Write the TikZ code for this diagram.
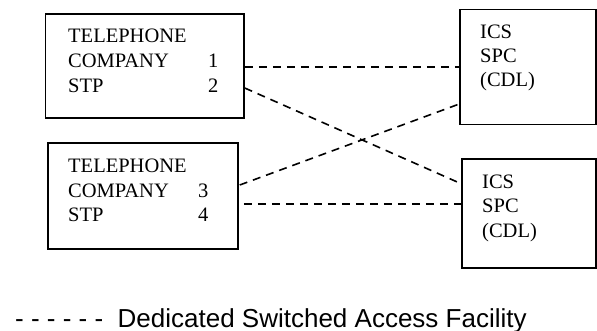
\documentclass[tikz,border=0pt]{standalone}
\usepackage{fontspec}
\setmainfont{Liberation Serif}
\newfontfamily\legendfont{Liberation Sans}
\begin{document}
\begin{tikzpicture}[x=1pt,y=-1pt,
  unitbox/.style={draw=black,line width=1.5pt,rectangle,inner sep=0pt,
    minimum width=#1},
  lbl/.style={anchor=base west,inner sep=0pt,font=\fontsize{20.5}{24}\selectfont},
  link/.style={line width=1.6pt,dash pattern=on 8pt off 6pt}]
  \useasboundingbox (0,0) rectangle (597,331);

  % telephone company STPs
  \node[unitbox=198.5pt,minimum height=104pt] (tc1) at (144.75,66) {};
  \node[unitbox=190pt,minimum height=106pt] (tc2) at (143,196) {};
  % ICS SPC boxes
  \node[unitbox=136pt,minimum height=115pt] (ics1) at (528,67) {};
  \node[unitbox=134pt,minimum height=109pt] (ics2) at (529,213.5) {};

  % labels of the first STP
  \node[lbl] (t1a) at (68,43) {TELEPHONE};
  \node[lbl] (t1b) at (68,68) {COMPANY};
  \node[lbl] (t1c) at (68,93) {STP};
  \node[lbl] (n1) at (208,68) {1};
  \node[lbl] (n2) at (208,93) {2};

  % labels of the second STP
  \node[lbl] (t2a) at (68,173) {TELEPHONE};
  \node[lbl] (t2b) at (68,198) {COMPANY};
  \node[lbl] (t2c) at (68,222) {STP};
  \node[lbl] (n3) at (198,198) {3};
  \node[lbl] (n4) at (198,222) {4};

  % labels of the ICS boxes
  \node[lbl] (i1a) at (480,39) {ICS};
  \node[lbl] (i1b) at (480,63) {SPC};
  \node[lbl] (i1c) at (480,87) {(CDL)};
  \node[lbl] (i2a) at (482,189) {ICS};
  \node[lbl] (i2b) at (482,213) {SPC};
  \node[lbl] (i2c) at (482,237) {(CDL)};

  % dedicated switched access facilities
  \draw[link] (tc1.east |- 0,67) -- (ics1.west |- 0,67);
  \draw[link] (tc1.east |- 0,88) -- ([xshift=-4pt]ics2.west |- 0,182);
  \draw[link] ([xshift=1pt]tc2.east |- 0,185) -- (ics1.west |- 0,104);
  \draw[link] ([xshift=5pt]tc2.east |- 0,204) -- (ics2.west |- 0,204);

  % legend
  \node[anchor=base west,inner sep=0pt,font=\legendfont\fontsize{26}{30}\selectfont]
    (legend) at (15,327) {- - - - - -\ \ Dedicated Switched Access Facility};
\end{tikzpicture}
\end{document}
